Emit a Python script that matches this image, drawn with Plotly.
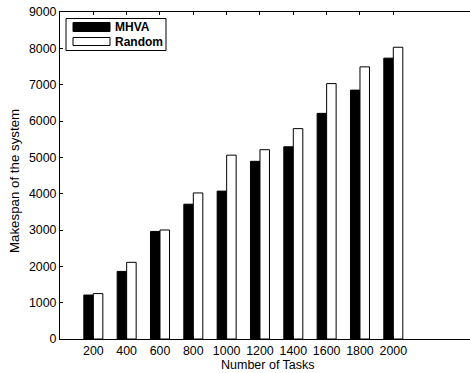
import plotly.graph_objects as go

categories = ["200", "400", "600", "800", "1000", "1200", "1400", "1600", "1800", "2000"]
mhva = [1210, 1860, 2960, 3710, 4070, 4890, 5290, 6210, 6850, 7730]
random_vals = [1250, 2110, 3000, 4020, 5060, 5210, 5790, 7030, 7490, 8030]
series_names = ["MHVA", "Random"]
y_ticks = [0, 1000, 2000, 3000, 4000, 5000, 6000, 7000, 8000, 9000]
x_title = "Number of Tasks"
y_title = "Makespan of the system"

W, H = 470, 373
ML, MR, MT, MB = 60, 0, 12, 34
PW, PH = W - ML - MR, H - MT - MB
FONT = "Liberation Sans, Arial, Helvetica, sans-serif"
X_RANGE = [-1, -1 + PW / 33.33]

def px(x):
    return (x - ML) / PW

def py(y):
    return (H - MB - y) / PH

fig = go.Figure()
fig.add_trace(go.Bar(x=categories, y=mhva, name=series_names[0],
                     marker=dict(color="black", line=dict(color="black", width=1)),
                     showlegend=False))
fig.add_trace(go.Bar(x=categories, y=random_vals, name=series_names[1],
                     marker=dict(color="white", line=dict(color="black", width=1)),
                     showlegend=False))

frame = dict(color="black", width=1)
shapes = [
    dict(type="line", xref="paper", yref="paper", x0=1, x1=1, y0=py(337.5), y1=py(13.5),
         line=dict(color="white", width=4), layer="above"),
    dict(type="rect", xref="paper", yref="paper", x0=px(66), x1=px(166), y0=py(50.5), y1=py(18.5),
         line=frame, fillcolor="white", layer="above"),
    dict(type="rect", xref="paper", yref="paper", x0=px(73), x1=px(110), y0=py(31.5), y1=py(22.5),
         line=frame, fillcolor="black", layer="above"),
    dict(type="rect", xref="paper", yref="paper", x0=px(73), x1=px(110), y0=py(45.5), y1=py(37.5),
         line=frame, fillcolor="white", layer="above"),
]
annotations = [
    dict(xref="paper", yref="paper", x=px(113), y=py(27), text="<b>%s</b>" % series_names[0],
         showarrow=False, xanchor="left", yanchor="middle", font=dict(size=12, color="black", family=FONT)),
    dict(xref="paper", yref="paper", x=px(113), y=py(41.5), text="<b>%s</b>" % series_names[1],
         showarrow=False, xanchor="left", yanchor="middle", font=dict(size=12, color="black", family=FONT)),
    dict(xref="paper", yref="paper", x=px(268), y=py(365), text=x_title,
         showarrow=False, xanchor="center", yanchor="middle", font=dict(size=12.5, color="black", family=FONT)),
    dict(xref="paper", yref="paper", x=px(15), y=py(181), text=y_title, textangle=-90,
         showarrow=False, xanchor="center", yanchor="middle", font=dict(size=13.3, color="black", family=FONT)),
]

fig.update_layout(
    width=W, height=H,
    margin=dict(l=ML, r=MR, t=MT, b=MB, pad=0),
    paper_bgcolor="white", plot_bgcolor="white",
    barmode="group", bargap=0.43, bargroupgap=0,
    font=dict(family=FONT, size=12.4, color="black"),
    shapes=shapes, annotations=annotations,
    showlegend=False,
)
fig.update_xaxes(
    type="category", range=X_RANGE,
    showline=True, linecolor="black", linewidth=1, mirror="ticks",
    ticks="inside", ticklen=3, tickcolor="black",
    showgrid=False, zeroline=False,
    tickfont=dict(size=12.4),
)
fig.update_yaxes(
    range=[0, 9000], tickvals=y_ticks,
    showline=True, linecolor="black", linewidth=1, mirror=False,
    ticks="inside", ticklen=3, tickcolor="black",
    showgrid=False, zeroline=False,
    tickfont=dict(size=12.4),
)

fig.write_html("out.html")
